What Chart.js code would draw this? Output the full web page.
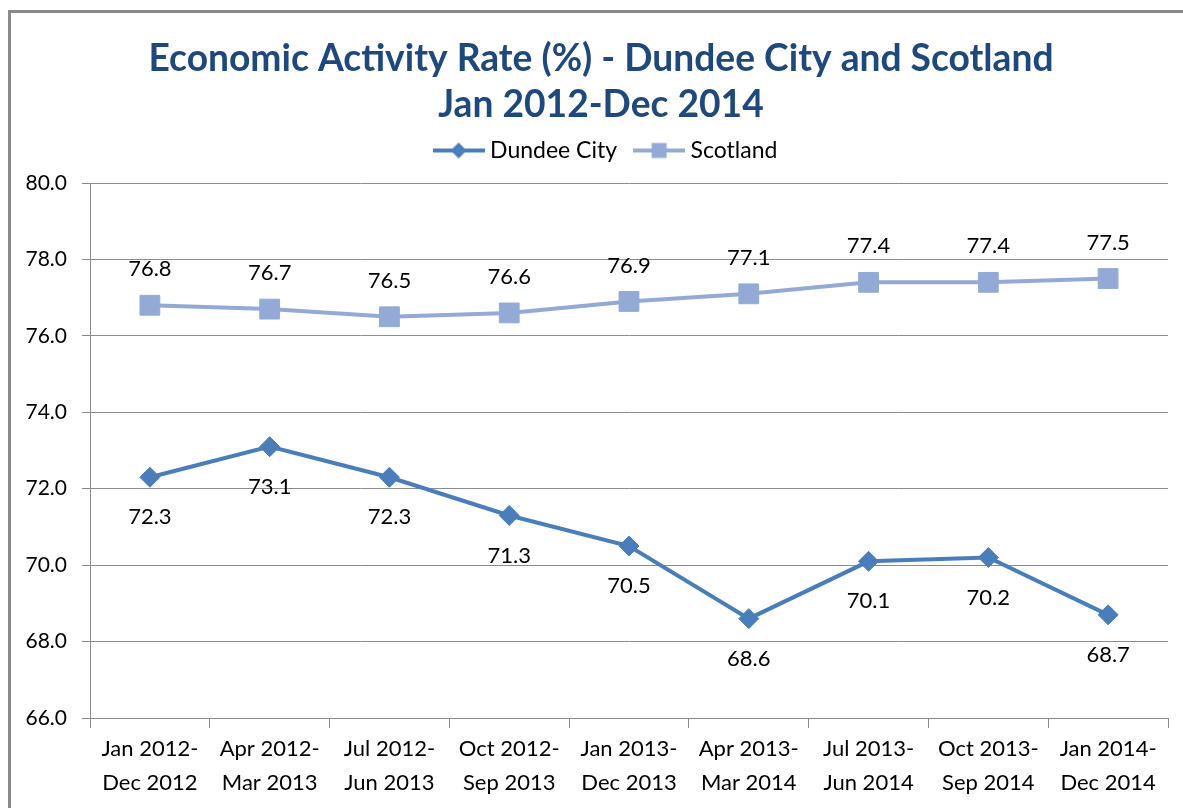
<!DOCTYPE html>
<html>
<head>
<meta charset="utf-8">
<script src="https://cdn.jsdelivr.net/npm/chart.js@4.4.1/dist/chart.umd.min.js"></script>
<style>
  html, body { margin: 0; padding: 0; background: #fff; overflow: hidden; }
  #frame { position: absolute; left: 8px; top: 10px; width: 1220px; height: 900px; border: 3px solid #8a8a8a; box-sizing: border-box; }
  #c { position: absolute; left: 0; top: 0; }
</style>
</head>
<body>
<div id="frame"></div>
<canvas id="c" width="1183" height="808"></canvas>
<script>
// ---- data ----
const categories = [
  ['Jan 2012-', 'Dec 2012'],
  ['Apr 2012-', 'Mar 2013'],
  ['Jul 2012-', 'Jun 2013'],
  ['Oct 2012-', 'Sep 2013'],
  ['Jan 2013-', 'Dec 2013'],
  ['Apr 2013-', 'Mar 2014'],
  ['Jul 2013-', 'Jun 2014'],
  ['Oct 2013-', 'Sep 2014'],
  ['Jan 2014-', 'Dec 2014']
];
const seriesNames = ['Dundee City', 'Scotland'];
const dundeeValues = [72.3, 73.1, 72.3, 71.3, 70.5, 68.6, 70.1, 70.2, 68.7];
const scotlandValues = [76.8, 76.7, 76.5, 76.6, 76.9, 77.1, 77.4, 77.4, 77.5];
const titleLines = ['Economic Activity Rate (%) - Dundee City and Scotland', 'Jan 2012-Dec 2014'];
const yMin = 66, yMax = 80, yStep = 2;

// ---- styles ----
const FONT = 'Lato';
const dundeeColor = '#4A7EBB';
const scotlandColor = '#93AAD6';
const gridColor = '#8c8c8c';
const textColor = '#000000';
const titleColor = '#1F497D';

// fit title size to the reference width
const mctx = document.createElement('canvas').getContext('2d');
mctx.font = 'bold 100px ' + FONT;
const titleSize = Math.round(100 * 905 / mctx.measureText(titleLines[0]).width * 10) / 10;

function legendMarker(color, shape) {
  const cv = document.createElement('canvas');
  cv.width = 52; cv.height = 22;
  const g = cv.getContext('2d');
  g.strokeStyle = color; g.lineWidth = 4;
  g.beginPath(); g.moveTo(0, 11); g.lineTo(52, 11); g.stroke();
  g.fillStyle = color;
  g.beginPath();
  if (shape === 'diamond') {
    g.moveTo(26, 3); g.lineTo(34, 11); g.lineTo(26, 19); g.lineTo(18, 11); g.closePath();
  } else {
    g.rect(18.5, 3.5, 15, 15);
  }
  g.fill();
  return cv;
}
const legendImgs = [legendMarker(dundeeColor, 'diamond'), legendMarker(scotlandColor, 'square')];

const dataLabelPlugin = {
  id: 'dataLabels',
  afterDatasetsDraw(chart) {
    const ctx = chart.ctx;
    ctx.save();
    ctx.font = '22px ' + FONT;
    ctx.fillStyle = textColor;
    ctx.textAlign = 'center';
    ctx.textBaseline = 'middle';
    chart.data.datasets.forEach((ds, i) => {
      const meta = chart.getDatasetMeta(i);
      const off = ds.labelOffset;
      meta.data.forEach((pt, j) => {
        ctx.fillText(ds.data[j].toFixed(1), pt.x, pt.y + off);
      });
    });
    ctx.restore();
  }
};

// horizontal / vertical nudges of the title and legend boxes
const headerShiftPlugin = {
  id: 'headerShift',
  afterLayout(chart) {
    if (chart.titleBlock) { chart.titleBlock.left = 32; }
    if (chart.legend) {
      chart.legend.left = 46;
      chart.legend.top -= 11; chart.legend.bottom -= 11;
    }
  }
};

Chart.defaults.font.family = FONT;
Chart.defaults.color = textColor;

new Chart(document.getElementById('c'), {
  type: 'line',
  data: {
    labels: categories,
    datasets: [
      {
        label: seriesNames[0], data: dundeeValues,
        borderColor: dundeeColor, backgroundColor: dundeeColor,
        borderWidth: 4, pointStyle: 'rectRot', pointRadius: 10,
        pointBorderWidth: 1, pointBackgroundColor: dundeeColor, pointBorderColor: dundeeColor,
        tension: 0, labelOffset: 40
      },
      {
        label: seriesNames[1], data: scotlandValues,
        borderColor: scotlandColor, backgroundColor: scotlandColor,
        borderWidth: 4, pointStyle: 'rect', pointRadius: 14,
        pointBorderWidth: 1, pointBackgroundColor: scotlandColor, pointBorderColor: scotlandColor,
        tension: 0, labelOffset: -36
      }
    ]
  },
  options: {
    responsive: false,
    animation: false,
    events: [],
    layout: { padding: { left: 0, right: 13, top: 0, bottom: 0 } },
    plugins: {
      title: {
        display: true,
        text: titleLines,
        color: titleColor,
        font: { size: titleSize, weight: 'bold', family: FONT, lineHeight: '46px' },
        padding: { top: 32, bottom: 0 }
      },
      legend: {
        display: true,
        position: 'top',
        labels: {
          font: { size: 23, family: FONT },
          color: textColor,
          usePointStyle: true,
          pointStyleWidth: 40,
          padding: 22,
          generateLabels(chart) {
            const items = Chart.defaults.plugins.legend.labels.generateLabels(chart);
            return items.map((it, i) => Object.assign(it, { pointStyle: legendImgs[i] }));
          }
        }
      },
      tooltip: { enabled: false }
    },
    scales: {
      x: {
        offset: true,
        grid: { display: true, drawOnChartArea: false, drawTicks: true, tickLength: 10, color: gridColor, offset: true },
        border: { display: true, color: gridColor, width: 1 },
        ticks: { font: { size: 22, family: FONT, lineHeight: '34px' }, color: textColor, padding: 4, maxRotation: 0, autoSkip: false },
        afterFit(s) { s.height = 90; s.paddingLeft = 0; s.paddingRight = 0; }
      },
      y: {
        min: yMin, max: yMax,
        grid: { color: gridColor, tickLength: 8, drawTicks: true },
        border: { display: true, color: gridColor, width: 1 },
        ticks: { stepSize: yStep, font: { size: 21, family: FONT }, color: textColor, padding: 15,
                 callback: (v) => Number(v).toFixed(1) },
        afterFit(s) { s.width = 90; s.paddingTop = 183; }
      }
    }
  },
  plugins: [dataLabelPlugin, headerShiftPlugin]
});
</script>
</body>
</html>
